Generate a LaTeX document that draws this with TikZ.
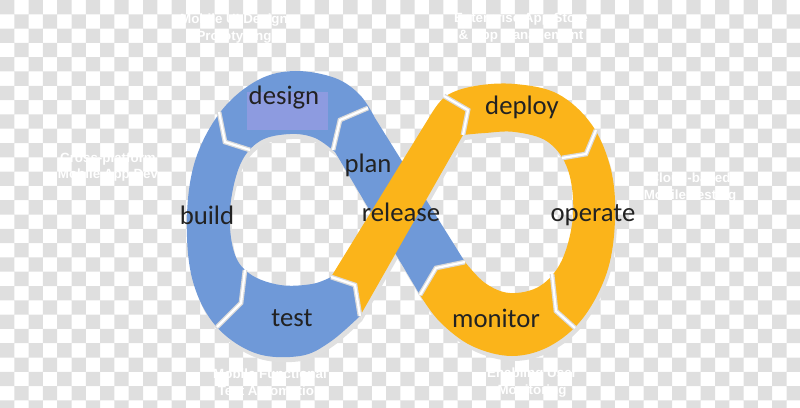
\documentclass[tikz,border=0pt]{standalone}
\usepackage{fontspec}
\newfontfamily\labelfont{Carlito}
\newfontfamily\notefont{Liberation Sans}
\definecolor{loopblue}{HTML}{6F99D8}
\definecolor{loopyellow}{HTML}{FBB41A}
\definecolor{boxlav}{HTML}{8D9BE0}
\definecolor{checkgray}{HTML}{DFDFDF}
\definecolor{labeltext}{HTML}{222222}
\tikzset{
  stage/.style={font=\labelfont\fontsize{19}{22}\selectfont, text=labeltext, inner sep=0pt},
  faintnote/.style={font=\notefont\bfseries\fontsize{9.5}{12}\selectfont, text=white, align=center, inner sep=0pt},
  gapline/.style={draw=black!15, line width=3.4pt, line join=miter},
  gapcore/.style={draw=white, line width=1.6pt, line join=miter},
  loopshadow/.style={fill=black!12, shift={(2,5)}},
}
\def\bluepath{(360,316) -- plot[smooth, tension=0.6] coordinates {(360,316) (330,342) (300,356) (255,353) (215,325) (192,278) (187,215) (196,158) (222,110) (258,80) (295,71) (335,78) (360,95) (375,118)}
		-- (465,262) -- (436,268) -- (420,295) -- (335,152)
		-- plot[smooth, tension=0.6] coordinates {(335,152) (315,138) (290,134) (260,141) (240,165) (230,210) (234,252) (250,274) (280,285) (312,284) (331,277)}
		-- (355,285) -- cycle}
\def\yellowpath{(331,277) -- (430,116) -- plot[smooth, tension=0.6] coordinates {(430,116) (446,96) (475,86) (515,84) (558,94) (592,125) (611,170) (615,220) (607,272) (583,318) (550,346) (512,356) (472,346) (440,322) (420,295)}
		-- (436,268) -- (465,262)
		-- plot[smooth, tension=0.6] coordinates {(465,262) (485,283) (510,293) (540,286) (562,260) (573,215) (568,170) (548,142) (515,132) (485,133) (463,135)}
		-- (360,316) -- (355,285) -- cycle}
\begin{document}
\begin{tikzpicture}[x=0.025cm,y=-0.025cm]
	\useasboundingbox (0,0) rectangle (800,407);
	% checker background
	\fill[checkgray] \foreach \i in {0,2,...,56}{ \foreach \j in {0,2,...,28}{
			(\i*14.3,\j*14.3) rectangle ++(14.3,14.3)
			({(\i+1)*14.3},{(\j+1)*14.3}) rectangle ++(14.3,14.3) } };
	% soft shadow
	\fill[loopshadow] \bluepath;
	\fill[loopshadow] \yellowpath;
	% left loop (blue)
	\fill[loopblue] \bluepath;
	% right loop (yellow)
	\fill[loopyellow] \yellowpath;
	% joints between the stages
	\foreach \o/\t/\n in {{(219,112)}/{(225,142)}/{(250,150)}, {(368,108)}/{(340,120)}/{(333,150)},
		{(217,327)}/{(241,303)}/{(245,270)}, {(360,316)}/{(355,285)}/{(331,277)},
		{(444,96)}/{(468,110)}/{(463,135)}, {(596,130)}/{(586,154)}/{(562,158)},
		{(575,328)}/{(556,311)}/{(552,274)}, {(420,295)}/{(436,268)}/{(465,262)}}{
		\draw[gapline] \o -- \t -- \n;
		\draw[gapcore] \o -- \t -- \n;
	}
	\fill[boxlav] (247,92) rectangle (328,130);
	% stage labels
	\node[stage] (design) at (284,98) {design};
	\node[stage] (plan) at (368,165) {plan};
	\node[stage] (build) at (207,215) {build};
	\node[stage] (release) at (401,212) {release};
	\node[stage] (test) at (292,318) {test};
	\node[stage] (deploy) at (522,107) {deploy};
	\node[stage] (operate) at (593,215) {operate};
	\node[stage] (monitor) at (496,318) {monitor};
	% faint notes
	\node[faintnote] (noteUI) at (234,29) {Mobile UI Design\\Prototyping};
	\node[faintnote] (noteStore) at (521,28) {Enterprise App Store\\\& App Management};
	\node[faintnote] (noteDev) at (108,167) {Cross-platform\\Mobile App Dev};
	\node[faintnote] (noteCloud) at (690,188) {Cloud-based\\Mobile Testing};
	\node[faintnote] (noteAuto) at (270,382) {Mobile Functional\\Test Automation};
	\node[faintnote] (noteUser) at (532,383) {Enabling User\\Monitoring};
\end{tikzpicture}
\end{document}
